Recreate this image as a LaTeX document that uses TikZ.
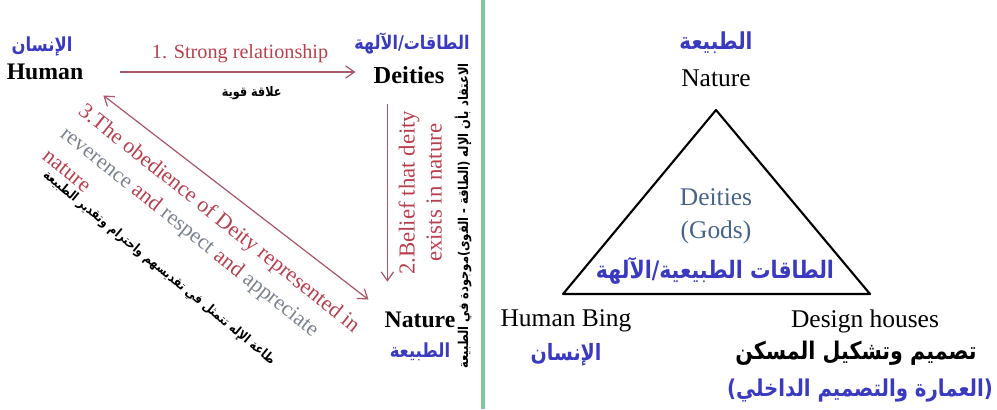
\documentclass[tikz,border=0pt]{standalone}
\usepackage{fontspec}
\setmainfont{Liberation Serif}
\newfontfamily\arabicfont[Script=Arabic, FakeStretch=0.85]{DejaVu Sans}
\TeXXeTstate=1
\usetikzlibrary{arrows.meta}
\definecolor{arblue}{HTML}{3A3AC0}
\definecolor{relred}{HTML}{B8404E}
\definecolor{relgray}{HTML}{7C8290}
\definecolor{arrowred}{HTML}{A85868}
\definecolor{godblue}{HTML}{46648A}
\definecolor{sepgreen}{HTML}{82C49C}

\begin{document}
\begin{tikzpicture}[x=0.02cm, y=-0.02cm,
    every node/.style={inner sep=0pt},
    ar/.style={font=\arabicfont\bfseries\fontsize{11}{13}\selectfont, text=arblue},
    arsmall/.style={font=\arabicfont\bfseries\fontsize{7.5}{9}\selectfont, text=black},
    heavy/.style={font=\bfseries\fontsize{13.5}{16}\selectfont},
    plain/.style={font=\fontsize{14.5}{18.8}\selectfont},
    rel/.style={arrowred, line width=0.7pt, >={Straight Barb[length=5pt,width=7pt]}},
    reltext/.style={font=\fontsize{12.5}{16.5}\selectfont, text=relred}]
    \useasboundingbox (0,0) rectangle (997,409);

    % left half
    \node[ar] (humanar) at (42,47) {\beginR الإنسان\endR};
    \node[heavy] (human) at (45,72) {Human};
    \node[ar, font=\arabicfont\bfseries\fontsize{10.7}{13}\selectfont] (deitiesar) at (412,44) {\beginR الطاقات/الآلهة\endR};
    \node[heavy, font=\bfseries\fontsize{13.9}{16}\selectfont] (deities) at (409,75) {Deities};
    \node[heavy] (nature) at (420,320) {Nature};
    \node[ar] (naturear) at (420,352) {\beginR الطبيعة\endR};

    \draw[rel, ->, shorten <=0.72cm, shorten >=0.36cm] (human.east) -- (human.east -| deities.west)
        node[pos=0.54, above=5pt, reltext, font=\fontsize{11.5}{14}\selectfont] (strong) {1. Strong relationship}
        node[pos=0.58, below=8pt, arsmall] (strongar) {\beginR علاقة قوية\endR};
    \draw[rel, ->] ([xshift=0.28cm, yshift=-0.4cm]deities.south west) -- ([xshift=0.28cm, yshift=0.6cm]deities.south west |- nature.north)
        node[midway, rotate=90, anchor=north, inner ysep=6pt, reltext, align=center, font=\fontsize{13}{15.4}\selectfont] (belief) {2.Belief that deity\\exists in nature};
    \draw[rel, <->, shorten <=0.5cm, shorten >=0.4cm] (human.south east) -- (nature.north west);

    \node[reltext, rotate=-38.5, anchor=north west, align=left] (obey) at (87,101)
        {3.The obedience of Deity represented in\\
         {\color{relgray}reverence} and {\color{relgray}respect} and {\color{relgray}appreciate}\\
         nature};
    \node[arsmall, rotate=-39.5, font=\arabicfont\bfseries\fontsize{7.4}{9}\selectfont] (obeyar) at (159,268)
        {\beginR طاعة الإله تتمثل في تقديسهم واحترام وتقدير الطبيعة\endR};
    \node[arsmall, rotate=90, font=\arabicfont\bfseries\fontsize{7.7}{9}\selectfont] (beliefar) at (463,216)
        {\beginR الاعتقاد بأن الإله (الطاقة - القوى)موجودة في الطبيعة\endR};

    \draw[sepgreen, line width=2.3pt] (483,0) -- (483,409);

    % right half
    \node[ar, font=\arabicfont\bfseries\fontsize{13.3}{15}\selectfont] (topar) at (716,43) {\beginR الطبيعة\endR};
    \node[plain] (top) at (716,78) {Nature};
    \coordinate (apex) at (716,110);
    \coordinate (left) at (563,294);
    \coordinate (right) at (870,294);
    \draw[line width=1.2pt, line join=round] (apex) -- (left) -- (right) -- cycle;
    \node[plain, text=godblue, align=center] (gods) at (716,216) {Deities\\(Gods)};
    \node[ar, font=\arabicfont\bfseries\fontsize{13.7}{16}\selectfont] (godsar) at (715,271) {\beginR الطاقات الطبيعية/الآلهة\endR};
    \node[plain] (being) at (566,321) {Human Bing};
    \node[ar, font=\arabicfont\bfseries\fontsize{12.8}{15}\selectfont] (beingar) at (566,355) {\beginR الإنسان\endR};
    \node[plain] (design) at (865,321) {Design houses};
    \node[ar, text=black, font=\arabicfont\bfseries\fontsize{13.8}{16}\selectfont] (designar) at (856,353) {\beginR تصميم وتشكيل المسكن\endR};
    \node[ar, font=\arabicfont\bfseries\fontsize{13.2}{16}\selectfont] (designar2) at (860,391) {\beginR (العمارة والتصميم الداخلي)\endR};
\end{tikzpicture}
\end{document}
